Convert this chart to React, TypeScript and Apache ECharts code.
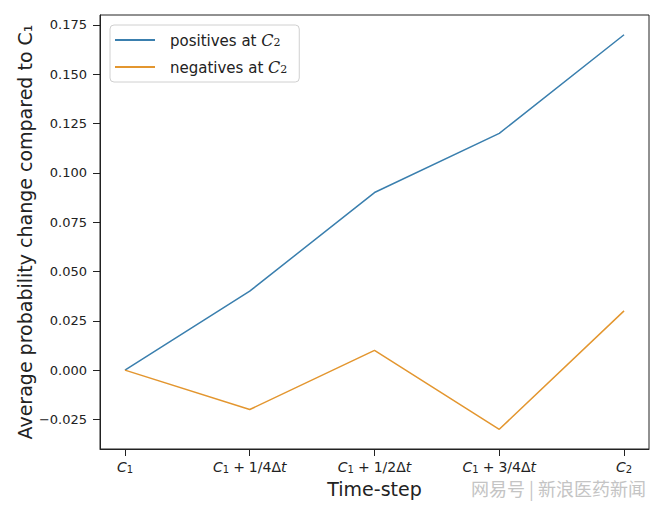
import React, { useEffect, useRef } from "react";
import * as echarts from "echarts";

const xPositions = [0, 1, 2, 3, 4];
const xTickLabels = ["C1", "C1 + 1/4Δt", "C1 + 1/2Δt", "C1 + 3/4Δt", "C2"];
const positives = [0.0, 0.04, 0.09, 0.12, 0.17];
const negatives = [0.0, -0.02, 0.01, -0.03, 0.03];
const yTicks = [-0.025, 0.0, 0.025, 0.05, 0.075, 0.1, 0.125, 0.15, 0.175];
const seriesNames = ["positives at C2", "negatives at C2"];

const FONT = "DejaVu Sans";

function tickRich(s: string): string {
  return s
    .replace(/C(\d)/g, "{i|C}{s|$1}")
    .replace(/ \+ (\S+)Δt/, "{p|+}{n|$1Δ}{i|t}");
}

function legendRich(s: string): string {
  return s.replace(/^(.*)C(\d)$/, "{n|$1}{m|C}{ms|$2}");
}

export default function App() {
  const ref = useRef<HTMLDivElement>(null);
  useEffect(() => {
    if (!ref.current) return;
    const chart = echarts.init(ref.current, null, { renderer: "svg" });
    const toPairs = (arr: number[]) => arr.map((v, i) => [xPositions[i], v]);
    chart.setOption({
      animation: false,
      backgroundColor: "#ffffff",
      grid: {
        left: 100,
        right: 11,
        top: 15,
        bottom: 64,
        containLabel: false,
        outerBoundsMode: "none",
        show: true,
        borderColor: "#222",
        borderWidth: 1,
      },
      xAxis: {
        type: "value",
        min: -0.2,
        max: 4.2,
        name: "Time-step",
        nameLocation: "middle",
        nameGap: 30,
        nameMoveOverlap: false,
        nameTextStyle: { fontFamily: FONT, fontSize: 19, color: "#222" },
        axisLine: { show: true, onZero: false, lineStyle: { color: "#222" } },
        splitLine: { show: false },
        axisTick: {
          show: true,
          length: 7,
          customValues: xPositions,
          lineStyle: { color: "#222" },
        },
        axisLabel: {
          customValues: xPositions,
          margin: 8,
          formatter: (v: number) => {
            const idx = xPositions.indexOf(Math.round(v));
            return idx >= 0 ? tickRich(xTickLabels[idx]) : "";
          },
          rich: {
            i: { fontFamily: FONT, fontStyle: "italic", fontSize: 14, color: "#222", lineHeight: 17, verticalAlign: "bottom" },
            s: { fontFamily: FONT, fontSize: 10, color: "#222", lineHeight: 12, verticalAlign: "bottom" },
            n: { fontFamily: FONT, fontSize: 14, color: "#222", lineHeight: 17, verticalAlign: "bottom" },
            p: { fontFamily: FONT, fontSize: 14, color: "#222", lineHeight: 17, verticalAlign: "bottom", padding: [0, 4, 0, 4] },
          },
        },
      },
      yAxis: {
        type: "value",
        min: -0.04,
        max: 0.18,
        name: "Average probability change compared to C\u2081",
        nameLocation: "middle",
        nameGap: 66,
        nameMoveOverlap: false,
        nameTextStyle: { fontFamily: FONT, fontSize: 19, color: "#222" },
        axisLine: { show: true, onZero: false, lineStyle: { color: "#222" } },
        splitLine: { show: false },
        axisTick: {
          show: true,
          length: 7,
          customValues: yTicks,
          lineStyle: { color: "#222" },
        },
        axisLabel: {
          customValues: yTicks,
          margin: 13,
          fontFamily: FONT,
          fontSize: 13,
          color: "#222",
          formatter: (v: number) => {
            const s = Math.abs(v).toFixed(3);
            return v < -1e-9 ? "\u2212" + s : s;
          },
        },
      },
      legend: {
        orient: "vertical",
        left: 110,
        top: 25,
        padding: [7, 12, 7, 5],
        itemGap: 11,
        itemWidth: 40,
        itemHeight: 2,
        icon: "rect",
        borderColor: "#d0d0d0",
        borderWidth: 1,
        borderRadius: 4,
        backgroundColor: "#fff",
        formatter: (name: string) => legendRich(name),
        textStyle: {
          fontFamily: FONT,
          fontSize: 15,
          color: "#222",
          padding: [0, 0, 0, 10],
          rich: {
            n: { fontFamily: FONT, fontSize: 15, color: "#222", lineHeight: 16, verticalAlign: "bottom" },
            m: { fontFamily: "DejaVu Serif", fontStyle: "italic", fontSize: 16, color: "#222", lineHeight: 16, verticalAlign: "bottom" },
            ms: { fontFamily: "DejaVu Serif", fontSize: 11, color: "#222", lineHeight: 11, verticalAlign: "bottom" },
          },
        },
      },
      series: [
        {
          name: seriesNames[0],
          type: "line",
          data: toPairs(positives),
          symbol: "none",
          lineStyle: { color: "#3a7fae", width: 1.5 },
          itemStyle: { color: "#3a7fae" },
        },
        {
          name: seriesNames[1],
          type: "line",
          data: toPairs(negatives),
          symbol: "none",
          lineStyle: { color: "#e3962f", width: 1.5 },
          itemStyle: { color: "#e3962f" },
        },
      ],
      graphic: [
        {
          type: "text",
          right: 14,
          top: 479,
          style: {
            text: "网易号 | 新浪医药新闻",
            fontFamily: "Noto Sans CJK SC",
            fontSize: 18,
            fill: "#c4c4c4",
          },
        },
      ],
    });
    return () => chart.dispose();
  }, []);
  return <div ref={ref} style={{ width: 660, height: 513, position: "absolute", left: 0, top: 0 }} />;
}
